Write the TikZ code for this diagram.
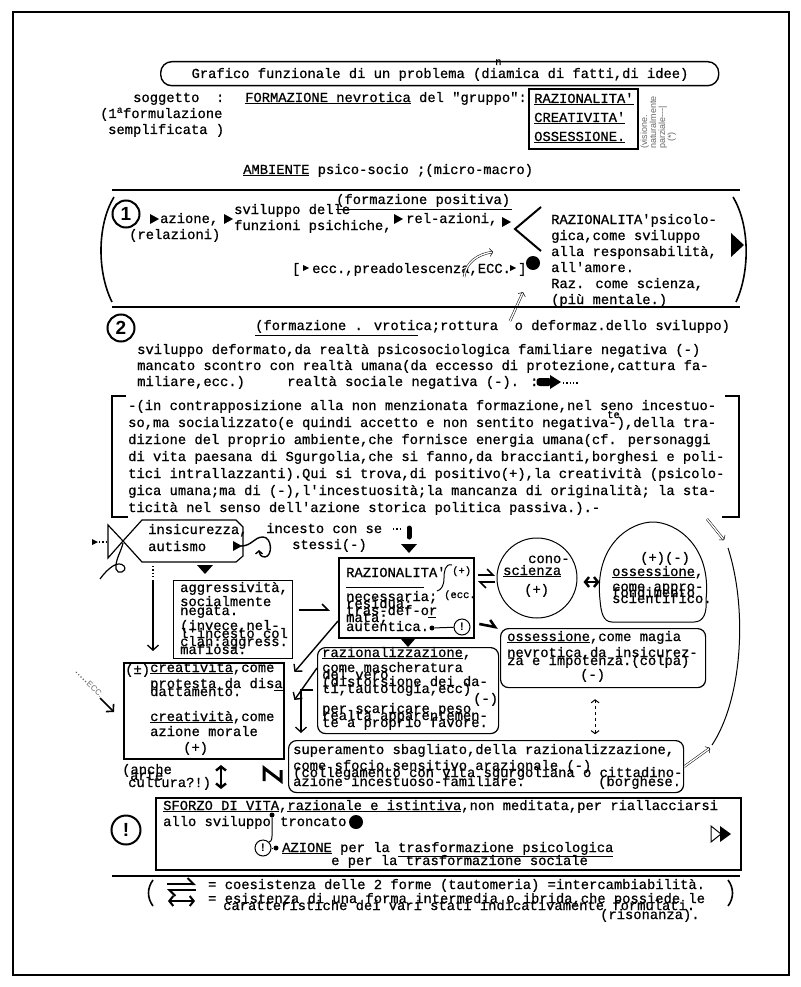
\documentclass[tikz,border=0pt]{standalone}
\usepackage{fontspec}
\setmainfont{Liberation Mono}[Ligatures=TeXOff, FakeBold=0.8]
\newfontfamily\sansf{Liberation Sans}
\usetikzlibrary{arrows.meta}
\newcommand\tw{\fontsize{13.8}{16}\selectfont}
\newcommand\twsmall{\fontsize{10.5}{11}\selectfont}
\newcommand\notefont{\sansf\fontsize{9}{9}\selectfont}

\begin{document}
\begin{tikzpicture}[x=1pt, y=-1pt,
  tw/.style={anchor=base west, inner sep=0pt, font=\tw},
  box/.style={draw, inner sep=0pt, anchor=north west},
  tbox/.style={box, line width=2.4pt},
  rbox/.style={box, line width=1.2pt, rounded corners=8pt},
  numc/.style={circle, draw, line width=2pt, inner sep=0pt, minimum size=27pt,
    font=\sansf\bfseries\fontsize{19}{19}\selectfont},
  bangc/.style={circle, draw, line width=1pt, inner sep=0pt, minimum size=16pt,
    font=\sansf\bfseries\fontsize{11}{11}\selectfont},
  dotn/.style={circle, fill, inner sep=0pt, minimum size=#1},
  vnote/.style={anchor=base west, inner sep=0pt, rotate=90, font=\notefont, text=black!60},
  bar/.style={line width=2.4pt},
  vtip/.style={-{Straight Barb[length=5pt,width=11pt]}},
  htip/.style={-{Straight Barb[harpoon,length=6pt,width=12pt]}},
  ttip/.style={{Straight Barb[length=4pt,width=10pt]}-{Straight Barb[length=4pt,width=10pt]}},
  hollow/.style={double, double distance=1.4pt, line width=0.5pt,
    -{Straight Barb[length=3pt,width=8pt]}},
  rtri/.pic={\fill (-4,-5) -- (5,0) -- (-4,5) -- cycle;},
  stri/.pic={\fill (-3,-3) -- (3,0) -- (-3,3) -- cycle;},
  dtri/.pic={\fill (-8,-4) -- (8,-4) -- (0,5) -- cycle;}
]
\useasboundingbox (0,0) rectangle (800,987);
% frame
\draw[line width=2.2pt] (13,12) rectangle (789,975);

% title
\node[box, rounded corners=11pt, line width=1.4pt, minimum width=558pt, minimum height=24pt] (ttlbox) at (160,61) {};
\node[tw, anchor=base] (ttl) at (440,78) {Grafico funzionale di un problema (diamica di fatti,di idee)};
\node[tw, font=\twsmall] (ttln) at (495,65) {n};

% soggetto
\node[tw] (sog) at (133,102) {soggetto~~:};
\node[tw] (sog2) at (100,118) {(1\textsuperscript{a}formulazione};
\node[tw] (sog3) at (108,134) {semplificata )};
\node[tw] (fnev) at (245,102) {\underline{FORMAZIONE nevrotica} del "gruppo":};
\node[tbox, minimum width=109pt, minimum height=60pt] (trio) at (528,88) {};
\node[tw] (trio1) at (534,103) {\underline{RAZIONALITA'}};
\node[tw] (trio2) at (534,122) {\underline{CREATIVITA'}};
\node[tw] (trio3) at (534,141) {\underline{OSSESSIONE.}};
% side note, turned
\node[vnote] (vis1) at (647,149) {(visione.};
\node[vnote] (vis2) at (656,149) {naturalmente};
\node[vnote] (vis3) at (665,149) {parziale---|};
\node[vnote] (vis4) at (674,142) {(*)};
\node[tw] (amb) at (243,174) {\underline{AMBIENTE} psico-socio ;(micro-macro)};

\draw[bar] (112,190) -- (740,190);

% section 1
\draw[line width=1.6pt] (114,197) .. controls (97,225) and (97,272) .. (112,302);
\draw[line width=1.6pt] (733,197) .. controls (750,225) and (750,272) .. (736,302);
\node[numc] (one) at (126,214) {1};
\pic at (154,219) {rtri};
\node[tw] (azi) at (160,223) {azione,};
\pic at (228,219) {rtri};
\node[tw] (relz) at (129,239) {(relazioni)};
\node[tw] (svi1) at (234,214) {sviluppo delle};
\node[tw] (svi2) at (234,230) {funzioni psichiche,};
\node[tw] (fpos) at (336,204) {(formazione positiva)};
\draw[line width=1pt] (336,209) -- (512,209);
\pic at (398,219) {rtri};
\node[tw] (relaz) at (406,223) {rel-azioni,};
\pic at (506,222) {rtri};
\draw[line width=2pt] (541,207) -- (515,229) -- (541,251);
\node[tw] (rc1) at (551,224) {RAZIONALITA'psicolo-};
\node[tw] (rc2) at (551,240) {gica,come sviluppo};
\node[tw] (rc3) at (551,256) {alla responsabilità,};
\node[tw] (rc4) at (551,272) {all'amore.};
\node[tw] (rc5) at (551,288) {Raz. come scienza,};
\node[tw] (rc6) at (551,304) {(più mentale.)};
\node[tw] (eccl) at (292,273) {[};
\pic at (306,268) {stri};
\node[tw] (ecc) at (312,273) {ecc.,preadolescenza,ECC.};
\pic at (513,268) {stri};
\node[tw] (eccr) at (518,273) {]};
\node[dotn=14pt] (dot1) at (533,263) {};
\coordinate (h1a) at (464,277);
\coordinate (h1b) at (493,252);
\draw[hollow] (h1a) .. controls (466,262) and (478,254) .. (h1b);
\coordinate (h2a) at (510,321);
\draw[hollow] (h2a) -- ([shift={(-10,22)}]dot1.south);
\fill (731,233) -- (744,245) -- (731,257) -- cycle;

\draw[bar] (112,307) -- (740,307);

% section 2
\node[numc] (two) at (121,328) {2};
\node[tw] (f2) at (255,330) {(formazione . vrotica;rottura~~o deformaz.dello sviluppo)};
\draw[line width=1pt] (255,335) -- (418,335);
\node[tw] (p1) at (137,354) {sviluppo deformato,da realtà psicosociologica familiare negativa (-)};
\node[tw] (p2) at (137,370) {mancato scontro con realtà umana(da eccesso di protezione,cattura fa-};
\node[tw] (p3) at (137,386) {miliare,ecc.)};
\node[tw] (p3b) at (287,386) {realtà sociale negativa (-). :};
\node[fill, rounded corners=3pt, inner sep=0pt, minimum width=15pt, minimum height=8pt] (pill) at (544,382) {};
\fill (550,375) -- (561,382) -- (550,389) -- cycle;
\draw[dotted, line width=1.3pt] (563,383) -- (579,383);

% bracket
\draw[bar] (126,396) -- (112,396) -- (112,517) -- (128,517);
\draw[bar] (725,396) -- (739,396) -- (739,517) -- (722,517);
\node[tw] (b1) at (128,410) {-(in contrapposizione alla non menzionata formazione,nel seno incestuo-};
\node[tw] (b2) at (128,427) {so,ma socializzato(e quindi accetto e non sentito negativa-),della tra-};
\node[tw, font=\twsmall] (b2te) at (607,418) {te};
\node[tw] (b3) at (128,444) {dizione del proprio ambiente,che fornisce energia umana(cf. personaggi};
\node[tw] (b4) at (128,461) {di vita paesana di Sgurgolia,che si fanno,da braccianti,borghesi e poli-};
\node[tw] (b5) at (128,478) {tici intrallazzanti).Qui si trova,di positivo(+),la creatività (psicolo-};
\node[tw] (b6) at (128,495) {gica umana;ma di (-),l'incestuosità;la mancanza di originalità; la sta-};
\node[tw] (b7) at (128,512) {ticità nel senso dell'azione storica politica passiva.).-};

% insicurezza
\pic at (95,542) {stri};
\draw[dotted, line width=1.3pt] (99,542) -- (107,542);
\draw[line width=1.2pt] (123,541) -- (108,525) -- (108,558) -- cycle;
\draw[line width=1.2pt] (123,541) -- (142,520) -- (236,520) -- (243,527) -- (243,556) -- (236,562) -- (142,562) -- cycle;
\draw[line width=1.2pt] (100,579) .. controls (108,568) and (118,560) .. (124,566)
  .. controls (128,572) and (117,575) .. (116,569) .. controls (115,560) and (121,552) .. (123,543);
\node[tw] (ins1) at (148,534) {insicurezza,};
\node[tw] (ins2) at (148,551) {autismo};
\pic at (237,546) {rtri};
\draw[line width=1.4pt, -{Straight Barb[length=3pt,width=7pt]}] (241,546) .. controls (252,546) and (254,537) .. (263,537)
  .. controls (272,537) and (273,556) .. (265,557) .. controls (261,557) and (259,554) .. (259,550);
\node[tw] (inc1) at (266,533) {incesto con se};
\node[tw] (inc2) at (292,549) {stessi(-)};
\pic at (205,569) {dtri};

% boxes
\node[box, line width=1pt, minimum width=119pt, minimum height=78pt] (aggr) at (173,580) {};
\node[tbox, minimum width=135pt, minimum height=80pt] (raz) at (338,557) {};
\node[circle, draw, line width=1pt, inner sep=0pt, minimum size=80pt] (cono) at (537,578) {};
\node[rbox, minimum width=205pt, minimum height=59pt] (magia) at (500,628) {};
\node[rbox, minimum width=181pt, minimum height=86pt] (razz) at (317,647) {};
\node[tbox, minimum width=160pt, minimum height=96pt] (creat) at (123,662) {};
\node[rbox, minimum width=395pt, minimum height=52pt] (super) at (288,740) {};
\node[box, line width=2pt, minimum width=585pt, minimum height=72pt] (sforzo) at (155,797) {};
% dome
\draw[line width=1pt] (612,622) -- (694,622) .. controls (704,622) and (707,612) .. (706,600)
  .. controls (712,545) and (675,522) .. (653,522) .. controls (630,522) and (594,545) .. (600,600)
  .. controls (601,612) and (603,622) .. (612,622) -- cycle;

% into RAZIONALITA'
\draw[dotted, line width=1.3pt] (393,529) -- (402,529);
\draw[line width=5pt, line cap=round] (409,528) -- (409,537);
\pic at (409,548) {dtri};
\pic at (408,642) {dtri};

% aggressivita
\node[tw] (ag1) at (180,592) {aggressività,};
\node[tw] (ag2) at (180,606) {socialmente};
\node[tw] (ag3) at (180,615) {negata.};
\node[tw] (ag4) at (180,630) {(invece,nel-};
\node[tw] (ag5) at (180,638) {l'incesto col};
\node[tw] (ag6) at (180,646) {clan:aggress.};
\node[tw] (ag7) at (180,654) {mafiosa.};

% RAZIONALITA'
\node[tw] (rz1) at (346,577) {RAZIONALITA'};
\node[tw, font=\twsmall] (rz2) at (452,574) {(+)};
\draw[line width=1pt] (452,565) .. controls (445,563) and (444,572) .. (444,578)
  .. controls (444,586) and (441,590) .. (437,591);
\draw[line width=1pt] (346,587) -- (424,587);
\node[tw, font=\twsmall] (rz3) at (444,598) {(ecc.};
\node[tw] (rz4) at (346,601) {necessaria;};
\node[tw] (rz5) at (346,608) {residua;};
\node[tw] (rz6) at (346,615) {tras-def-or};
\node[tw] (rz7) at (346,622) {mata;};
\node[tw] (rz8) at (346,631) {autentica.};
\draw[line width=1pt] (428,617) -- (436,617);
\node[dotn=5pt] (rzdot) at (432,628) {};
\node[bangc] (rzbang) at (462,627) {!};
\draw[line width=1pt] (rzdot) -- (rzbang);

% conoscienza
\node[tw] (cn1) at (528,563) {cono-};
\node[tw] (cn2) at (503,575) {\underline{scienza}};
\node[tw] (cn3) at (524,594) {(+)};
\draw[line width=1.6pt, htip] (478,575) -- (495,575);
\draw[line width=1.6pt, htip] (495,582) -- (478,582);
\draw[line width=2.4pt, ttip] (cono.east) ++(6,4) -- ++(16,0);

% ossessione dome
\node[tw] (os1) at (640,562) {(+)(-)};
\node[tw] (os2) at (612,576) {\underline{ossessione},};
\node[tw] (os3) at (612,591) {come appro-};
\node[tw] (os4) at (612,597) {fondimento};
\node[tw] (os5) at (612,603) {scientifico.};

% magia
\node[tw] (mg1) at (507,641) {\underline{ossessione},come magia};
\node[tw] (mg2) at (507,657) {nevrotica,da insicurez-};
\node[tw] (mg3) at (507,665) {za e impotenza.(colpa)};
\node[tw] (mg4) at (580,679) {(-)};

% razionalizzazione
\node[tw] (rl1) at (322,657) {\underline{razionalizzazione},};
\node[tw] (rl2) at (322,672) {come mascheratura};
\node[tw] (rl3) at (322,679) {del vero};
\node[tw] (rl4) at (322,686) {(distorsione dei da-};
\node[tw] (rl5) at (322,693) {ti,tautologia,ecc)};
\node[tw] (rl6) at (473,703) {(-)};
\node[tw] (rl7) at (322,713) {per scaricare peso};
\node[tw] (rl8) at (322,720) {realtà apparentemen-};
\node[tw] (rl9) at (322,727) {te a proprio favore.};

% creativita
\node[tw] (cr0) at (125,674) {(±)};
\node[tw] (cr1) at (150,672) {\underline{creatività},come};
\node[tw] (cr2) at (150,688) {protesta da disa};
\draw[line width=1pt] (274,690) -- (283,690);
\node[tw] (cr3) at (150,696) {dattamento.};
\node[tw] (cr4) at (150,721) {\underline{creatività},come};
\node[tw] (cr5) at (150,736) {azione morale};
\node[tw] (cr6) at (183,752) {(+)};
\node[tw] (an1) at (122,774) {(anche};
\node[tw] (an2) at (130,780) {arte};
\node[tw] (an3) at (128,787) {cultura?!)};

% superamento
\node[tw] (su1) at (293,754) {superamento sbagliato,della razionalizzazione,};
\node[tw] (su2) at (293,770) {come sfocio sensitivo arazionale (-)};
\node[tw] (su3) at (293,777) {(collegamento con vita sgurgoliana o cittadino-};
\node[tw] (su4) at (293,786) {azione incestuoso-familiare.};
\node[tw] (su5) at (598,786) {(borghese.};

% connectors
\draw[dotted, line width=1.4pt] (153,566) -- (153,577);
\draw[line width=1.3pt, vtip] (153,580) -- ([shift={(30,-11)}]creat.north west);
\draw[line width=1.6pt, htip, shorten <=6pt, shorten >=8pt] (aggr.east |- 0,610) -- (raz.west |- 0,610);
\draw[line width=1.4pt, vtip] (raz.west |- 0,621) -- ([shift={(9,10)}]creat.north east);
\draw[line width=1.4pt, vtip] (razz.west |- 0,668) -- ([shift={(9,38)}]creat.north east);
\draw[line width=1.3pt, vtip] ([shift={(-4,43)}]razz.north west) -- (301,690) -- (301,733);
\draw[line width=2.6pt, htip, shorten <=4pt, shorten >=2pt] (raz.-20) -- (magia.north west);
\draw[line width=1pt, dashed, {Straight Barb[length=3pt,width=8pt]}-{Straight Barb[length=3pt,width=8pt]}]
  ([shift={(-8,11)}]magia.south) -- ([shift={(-8,46)}]magia.south);
\draw[line width=2.4pt, ttip] (221,765) -- (221,789);
\draw[line width=3pt] (264,781) -- (264,768) -- (281,781) -- (281,770);
% ecc
\draw[dotted, line width=1.2pt, black!60] (76,672) -- (86,682);
\node[rotate=-43, font=\sansf\fontsize{8}{8}\selectfont, text=black!60, inner sep=0pt] (ecc2) at (95,689) {ECC.};
\draw[line width=1.6pt, vtip] (100,698) -- (114,712);
% loop on the right
\coordinate (lpa) at (707,519);
\draw[hollow] (lpa) -- (724,540);
\draw[line width=1pt] (728,548) .. controls (748,610) and (742,700) .. (712,745);
\draw[hollow] (super.east) -- (710,748);

% sforzo di vita
\node[numc, minimum size=29pt] (bang0) at (126,830) {!};
\node[tw] (sf1) at (163,810) {\underline{SFORZO DI VITA},\underline{razionale e istintiva},non meditata,per riallacciarsi};
\node[tw] (sf2) at (163,826) {allo sviluppo};
\node[dotn=5pt] (sdot) at (272,815) {};
\node[tw] (sf3) at (280,826) {troncato};
\node[dotn=14pt] (sdot2) at (356,822) {};
\node[bangc] (sbang) at (263,848) {!};
\node[dotn=5pt] (zdot) at (276,848) {};
\draw[line width=1pt] (sdot) -- (272,836) .. controls (272,841) and (270,842) .. (sbang.north east);
\draw[line width=1pt] (sbang.east) -- (zdot);
\node[tw] (sf4) at (282,852) {\underline{AZIONE} per la \underline{trasformazione psicologica}};
\node[tw] (sf5) at (331,865) {e \underline{per la trasformazione sociale}};
\draw[line width=1pt] (711,826) -- (721,834) -- (711,842) -- cycle;
\fill (720,826) -- (731,834) -- (720,842) -- cycle;

\draw[bar] (112,876) -- (740,876);

% legend
\draw[line width=1.6pt] (153,880) .. controls (147,888) and (147,898) .. (153,906);
\draw[line width=1.6pt] (728,880) .. controls (734,888) and (734,898) .. (728,906);
\draw[line width=2pt, htip] (167,884) -- (196,884);
\draw[line width=2pt, htip] (196,890) -- (167,890);
\draw[line width=2pt, ttip] (168,901) -- (195,901);
\node[tw] (lg1) at (208,889) {= coesistenza delle 2 forme (tautomeria) =intercambiabilità.};
\node[tw] (lg2) at (208,903) {= esistenza di una forma intermedia o ibrida,che possiede le};
\node[tw] (lg3) at (223,910) {caratteristiche dei vari stati indicativamente formulati.};
\node[tw] (lg4) at (600,919) {(risonanza).};
\end{tikzpicture}
\end{document}
